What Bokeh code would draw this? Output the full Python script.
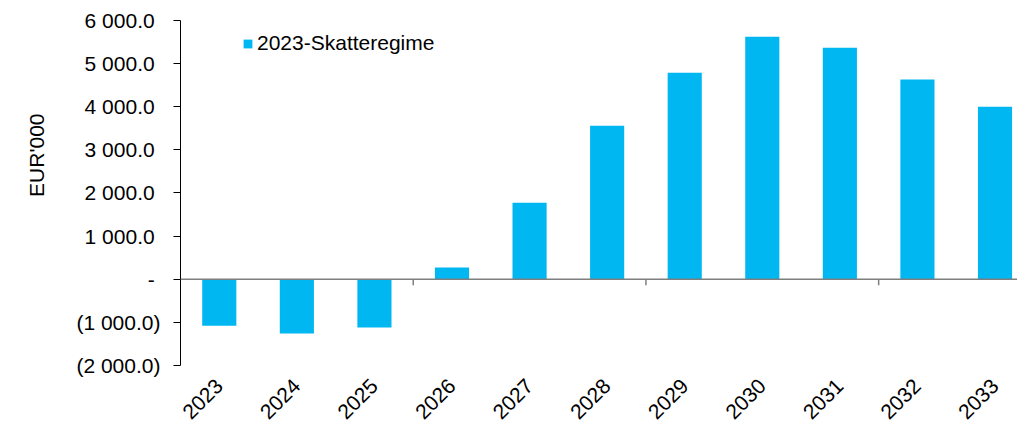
from math import pi
from bokeh.plotting import figure
from bokeh.core.properties import value
from bokeh.models import (Range1d, FixedTicker, CustomJSTickFormatter, Span, LabelSet, Title,
                          ColumnDataSource)
from bokeh.embed import file_html
from bokeh.resources import INLINE

years = ["2023", "2024", "2025", "2026", "2027", "2028", "2029", "2030", "2031", "2032", "2033"]
values = [-1080, -1260, -1120, 275, 1775, 3560, 4790, 5625, 5370, 4630, 4000]
y_ticks = [-2000, -1000, 0, 1000, 2000, 3000, 4000, 5000, 6000]
series_name = "2023-Skatteregime"
y_title = "EUR'000"

BAR = "#00B7F1"
FONT = "Liberation Sans"
FS = "21px"

xs = [i + 0.5 for i in range(len(years))]
src = ColumnDataSource(dict(x=xs, top=values, year=years, ly=[-2395] * len(years)))

p = figure(width=1017, height=422, output_backend="svg", toolbar_location=None,
           x_range=Range1d(0, 10.79), y_range=Range1d(-3322, 6000),
           min_border_left=180, min_border_right=0, min_border_top=20, min_border_bottom=0)
p.outline_line_color = None
p.xgrid.visible = False
p.ygrid.visible = False

p.vbar(x="x", top="top", bottom=0, width=0.44, source=src, fill_color=BAR,
       line_color=None, legend_label=series_name)

# zero line
p.add_layout(Span(location=0, dimension="width", line_color="#7f7f7f", line_width=1.5))
# small group ticks below the zero line every 3 categories
gt = list(range(3, len(years), 3))
p.segment(x0=gt, x1=gt, y0=[0] * len(gt), y1=[-140] * len(gt), line_color="#7f7f7f", line_width=1.5)

# category labels rotated 45 degrees under the value axis range
p.xaxis.visible = False
p.add_layout(LabelSet(x="x", y="ly", text="year", source=src, angle=pi / 4,
                      text_align="right", text_baseline="middle", text_font=value(FONT),
                      text_font_size=value(FS), text_color="#000000"))

# y axis
ya = p.yaxis[0]
ya.bounds = (y_ticks[0], y_ticks[-1])
ya.ticker = FixedTicker(ticks=y_ticks)
ya.formatter = CustomJSTickFormatter(code="""
const v = tick;
if (Math.abs(v) < 1e-9) return "-\\u00a0";
const s = Math.abs(v).toFixed(1);
const parts = s.split(".");
const g = parts[0].replace(/\\B(?=(\\d{3})+(?!\\d))/g, " ");
const t = g + "." + parts[1];
return v < 0 ? "(" + t + ")" : t + "\\u00a0";
""")
ya.axis_line_color = "#000000"
ya.axis_line_width = 1
ya.major_tick_line_color = "#000000"
ya.major_tick_out = 7
ya.major_tick_in = 0
ya.minor_tick_line_color = None
ya.major_label_text_font = FONT
ya.major_label_text_font_size = FS
ya.major_label_text_color = "#000000"
ya.major_label_standoff = 13

# y title
t = Title(text=y_title, align="right", vertical_align="top", offset=93, text_font=FONT,
          text_font_size=FS, text_font_style="normal", text_color="#000000")
if "standoff" in Title.properties():
    t.standoff = 48
p.add_layout(t, "left")

lg = p.legend[0]
lg.location = (62, 367)
lg.border_line_color = None
lg.background_fill_alpha = 0
lg.padding = 0
lg.margin = 0
lg.glyph_width = 11
lg.glyph_height = 11
lg.label_standoff = 4
lg.label_text_font = FONT
lg.label_text_font_size = FS
lg.label_text_color = "#000000"

open("out.html", "w").write(file_html(p, INLINE))
